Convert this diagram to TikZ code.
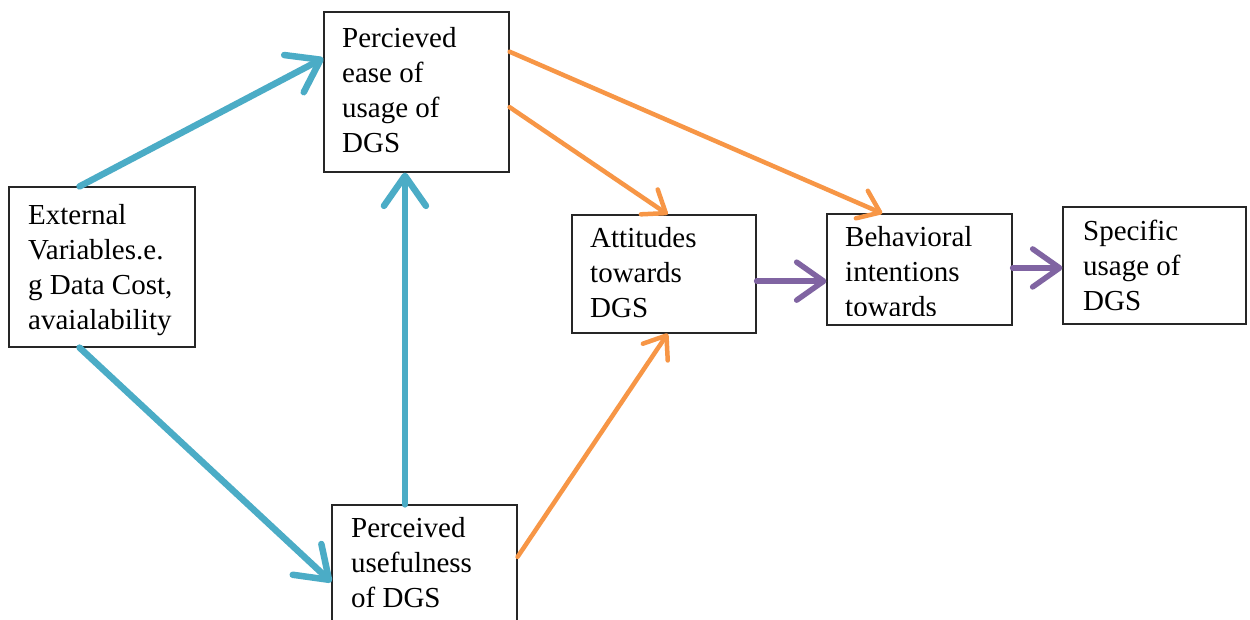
\documentclass[tikz,border=0pt]{standalone}
\usepackage{fontspec}
\setmainfont{Liberation Serif}
\usetikzlibrary{arrows.meta,calc}
\definecolor{tamblue}{HTML}{4BACC6}
\definecolor{tamorange}{HTML}{F79646}
\definecolor{tampurple}{HTML}{8064A2}
\tikzset{
  box/.style={draw=black!85, line width=1.2pt, fill=white, inner sep=0pt, rectangle},
  txt/.style={anchor=base west, align=left, inner sep=0pt, font=\fontsize{29}{35}\selectfont},
  bluearrow/.style={draw=tamblue, line width=6.5pt, line cap=round, -{Straight Barb[round,length=30pt,width=42pt]}},
  orangearrow/.style={draw=tamorange, line width=4.5pt, line cap=round, -{Straight Barb[round,length=20pt,width=30pt]}},
  purplearrow/.style={draw=tampurple, line width=5.5pt, line cap=round, -{Straight Barb[round,length=27pt,width=38pt]}},
}
\begin{document}
\begin{tikzpicture}[x=1pt,y=-1pt]
\useasboundingbox (0,0) rectangle (1250,619);
\fill[white] (0,0) rectangle (1250,619);
% boxes
\node[box, minimum width=186pt, minimum height=160pt] (ext) at (102,267) {};
\node[box, minimum width=185pt, minimum height=160pt] (ease) at (416.5,92) {};
\node[box, minimum width=185pt, minimum height=135pt] (use) at (424.5,572.5) {};
\node[box, minimum width=184pt, minimum height=118pt] (att) at (664,274) {};
\node[box, minimum width=185pt, minimum height=111pt] (beh) at (919.5,269.5) {};
\node[box, minimum width=183pt, minimum height=117pt] (spec) at (1154.5,265.5) {};
% texts (anchor = baseline of last line)
\node[txt] (ext-t) at (28,329) {External\\Variables.e.\\g Data Cost,\\avaialability};
\node[txt] (ease-t) at (342,152) {Percieved\\ease of\\usage of\\DGS};
\node[txt] (use-t) at (351,607) {Perceived\\usefulness\\of DGS};
\node[txt] (att-t) at (590,317) {Attitudes\\towards\\DGS};
\begin{scope}
  \clip (827,214) rectangle (1012,315);
  \node[txt] (beh-t) at (845,316) {Behavioral\\intentions\\towards};
\end{scope}
\node[txt] (spec-t) at (1083,310) {Specific\\usage of\\DGS};
% blue connectors
\coordinate (b3) at ($(use.north west)!0.395!(use.north east)$);
\draw[bluearrow] ($(ext.north west)!0.38!(ext.north east)$) -- ($(ease.north west)!0.29!(ease.south west)$);
\draw[bluearrow] ($(ext.south west)!0.38!(ext.south east)$) -- ($(use.north west)!0.57!(use.south west)$);
\draw[bluearrow] (b3) -- (ease.south -| b3);
% orange connectors
\draw[orangearrow] ($(ease.north east)!0.594!(ease.south east)$) -- ($(att.north west)!0.52!(att.north east)$);
\draw[orangearrow] ($(ease.north east)!0.25!(ease.south east)$) -- ($(beh.north west)!0.30!(beh.north east)$);
\draw[orangearrow] ($(use.north east)!0.385!(use.south east)$) -- ($(att.south west)!0.52!(att.south east)$);
% purple connectors
\coordinate (p1) at ($(att.north east)!0.56!(att.south east)$);
\coordinate (p2) at ($(beh.north east)!0.486!(beh.south east)$);
\draw[purplearrow] (p1) -- (beh.west |- p1);
\draw[purplearrow] (p2) -- (spec.west |- p2);
\end{tikzpicture}
\end{document}
